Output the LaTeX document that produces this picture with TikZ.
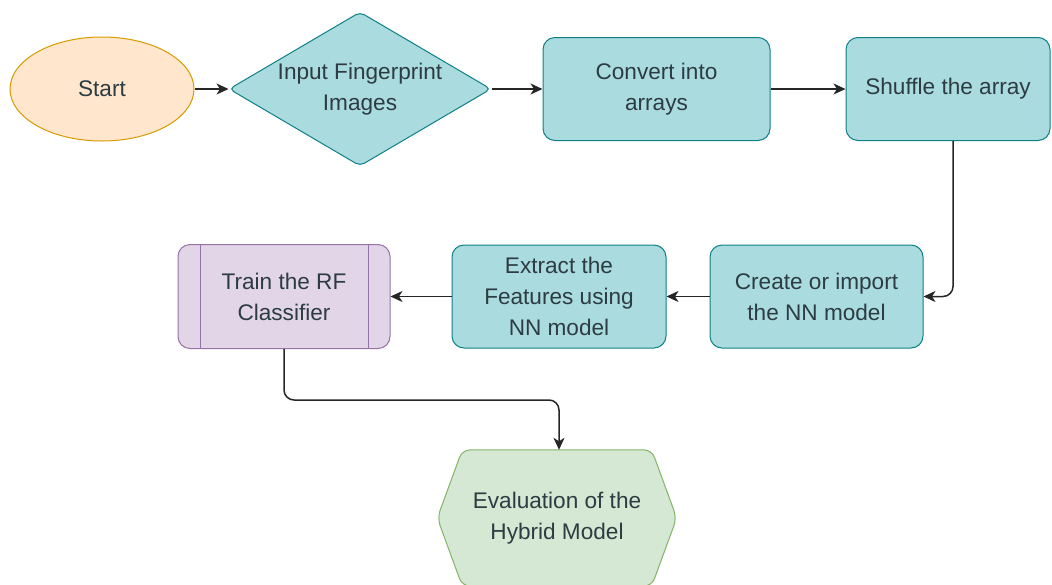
\documentclass[tikz,border=0pt]{standalone}
\usepackage{fontspec}
\setmainfont{Liberation Sans}
\usetikzlibrary{shapes.geometric,arrows.meta,backgrounds}
\definecolor{tealfill}{RGB}{170,219,222}
\definecolor{tealline}{RGB}{14,128,136}
\definecolor{startfill}{RGB}{255,230,204}
\definecolor{startline}{RGB}{215,155,0}
\definecolor{trainfill}{RGB}{225,213,231}
\definecolor{trainline}{RGB}{150,115,166}
\definecolor{evalfill}{RGB}{213,232,212}
\definecolor{evalline}{RGB}{130,179,102}
\definecolor{txt}{RGB}{45,60,66}

\begin{document}
\begin{tikzpicture}[x=1pt, y=-1pt,
        every node/.style = {font=\fontsize{22.6}{31}\selectfont, text=txt, align=center, inner sep=0},
        startnode/.style = {ellipse, draw=startline, fill=startfill, line width=1pt, minimum width=184, minimum height=104},
        decision/.style = {diamond, draw=tealline, fill=tealfill, line width=1pt, rounded corners=5, aspect=1.7, minimum width=262, minimum height=154},
        procbox/.style = {rectangle, draw=tealline, fill=tealfill, line width=1pt, rounded corners=12, minimum height=103},
        trainbox/.style = {rectangle, draw=trainline, fill=trainfill, line width=1pt, rounded corners=12, minimum width=212, minimum height=104},
        evalshape/.style = {draw=evalline, fill=evalfill, line width=1pt, rounded corners=8},
        arr/.style = {-{Stealth[length=12pt, width=11pt, inset=3.5pt]}, line width=1.5pt, draw=black!85, rounded corners=10}]
        \useasboundingbox (0,0) rectangle (1052,584);

        \node[startnode] (start) at (102,89) {Start};
        \node[decision] (input) at (360,89) {Input Fingerprint\\Images};
        \node[procbox, minimum width=227] (convert) at (656.5,89) {Convert into\\arrays};
        \node[procbox, minimum width=204] (shuffle) at (948,89) {Shuffle the array};
        \node[procbox, minimum width=213] (create) at (816.5,296.5) {Create or import\\the NN model};
        \node[procbox, minimum width=214] (extract) at (559,296.5) {Extract the\\Features using\\NN model};
        \node[trainbox] (train) at (284,296.5) {Train the RF\\Classifier};
        \draw[draw=trainline, line width=1pt] ([xshift=23]train.north west) -- ([xshift=23]train.south west);
        \draw[draw=trainline, line width=1pt] ([xshift=-22]train.north east) -- ([xshift=-22]train.south east);
        \node[minimum width=239, minimum height=136] (eval) at (557,518) {Evaluation of the\\Hybrid Model};
        \begin{scope}[on background layer]
            \draw[evalshape] ([xshift=25]eval.north west) -- ([xshift=-25]eval.north east) -- (eval.east) -- ([xshift=-25]eval.south east) -- ([xshift=25]eval.south west) -- (eval.west) -- cycle;
        \end{scope}

        \draw[arr] (start.east) -- (input.west);
        \draw[arr] (input.east) -- (convert.west);
        \draw[arr] (convert.east) -- (shuffle.west);
        \draw[arr] ([xshift=5]shuffle.south) |- (create.east);
        \draw[arr] (create.west) -- (extract.east);
        \draw[arr] (extract.west) -- (train.east);
        \draw[arr] (train.south) -- ++(0,51) -| ([xshift=2]eval.north);
    \end{tikzpicture}
\end{document}
